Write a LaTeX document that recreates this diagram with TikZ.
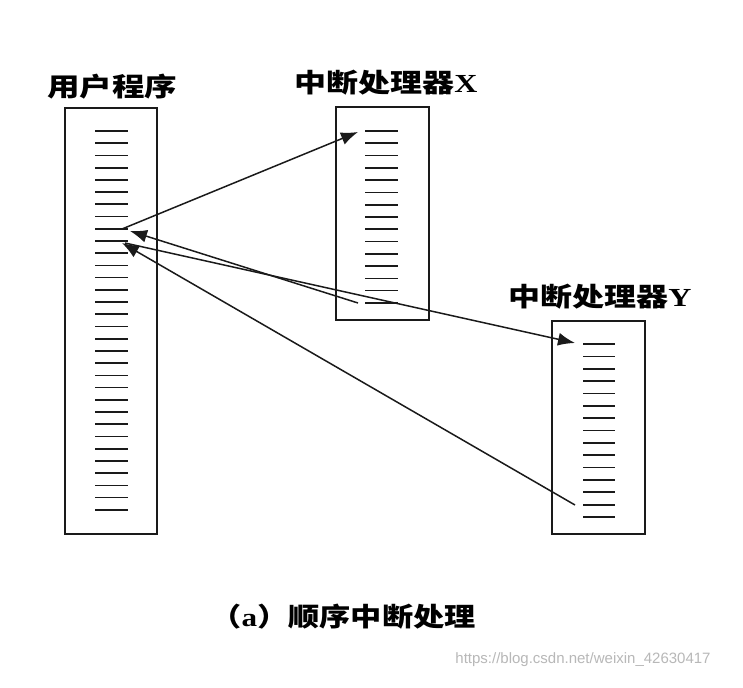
\documentclass[tikz,border=0pt]{standalone}
\usepackage{fontspec}
\usetikzlibrary{arrows.meta}
\newfontfamily\cjk{Noto Sans CJK SC}
\newfontfamily\serifb{Liberation Serif}
\newfontfamily\wm{Liberation Sans}
\definecolor{ink}{HTML}{1A1A1A}
\tikzset{
  boxst/.style={draw=ink, line width=1.8pt},
  tick/.style={draw=ink, line width=1.7pt},
  arr/.style={draw=ink, line width=1.5pt, -{Latex[length=17pt,width=13pt]}},
  lbl/.style={inner sep=0pt, text=black, font=\cjk\bfseries\fontsize{26}{26}\selectfont}
}
\begin{document}
\begin{tikzpicture}[x=1pt,y=-1pt]
\useasboundingbox[fill=white] (0,0) rectangle (743,687);
% boxes
\node[boxst, minimum width=92pt, minimum height=426pt, inner sep=0pt] (P) at (111,321) {};
\node[boxst, minimum width=93pt, minimum height=213pt, inner sep=0pt] (X) at (382.5,213.5) {};
\node[boxst, minimum width=93pt, minimum height=213pt, inner sep=0pt] (Y) at (598.5,427.5) {};
% ticks
\foreach \i in {0,...,31}{
  \draw[tick] (95,{131+\i*12.22}) coordinate (PL\i) -- (128,{131+\i*12.22}) coordinate (PR\i);
}
\foreach \i in {0,...,14}{
  \draw[tick] (365,{131+\i*12.28}) coordinate (XL\i) -- (398,{131+\i*12.28});
  \draw[tick] (583,{344+\i*12.36}) coordinate (YL\i) -- (615,{344+\i*12.36});
}
% labels
\node[lbl] (tP) at (112,87) {\scalebox{1.25}[1]{用户程序}};
\node[lbl] (tX) at (386,83) {\scalebox{1.23}[1]{中断处理器{\serifb\bfseries X}}};
\node[lbl] (tY) at (600,297) {\scalebox{1.23}[1]{中断处理器{\serifb\bfseries Y}}};
\node[lbl] (cap) at (343,617) {\scalebox{1.2}[1]{（{\serifb\bfseries a}）顺序中断处理}};
\node[inner sep=0pt, text=black!28, font=\wm\fontsize{15}{15}\selectfont] (wmk) at (583,660) {https://blog.csdn.net/weixin\_42630417};
% connector end points
\coordinate (a1s) at (122,229);
\coordinate (a1e) at (358,132);
\coordinate (a2s) at (358,303);
\coordinate (a2e) at (130,231);
\coordinate (a3s) at (125,243);
\coordinate (a3e) at (575,343);
\coordinate (a4s) at (575,505);
\coordinate (a4e) at (122,243);
\draw[arr] (a1s) -- (a1e);
\draw[arr] (a2s) -- (a2e);
\draw[arr] (a3s) -- (a3e);
\draw[arr] (a4s) -- (a4e);
\end{tikzpicture}
\end{document}
